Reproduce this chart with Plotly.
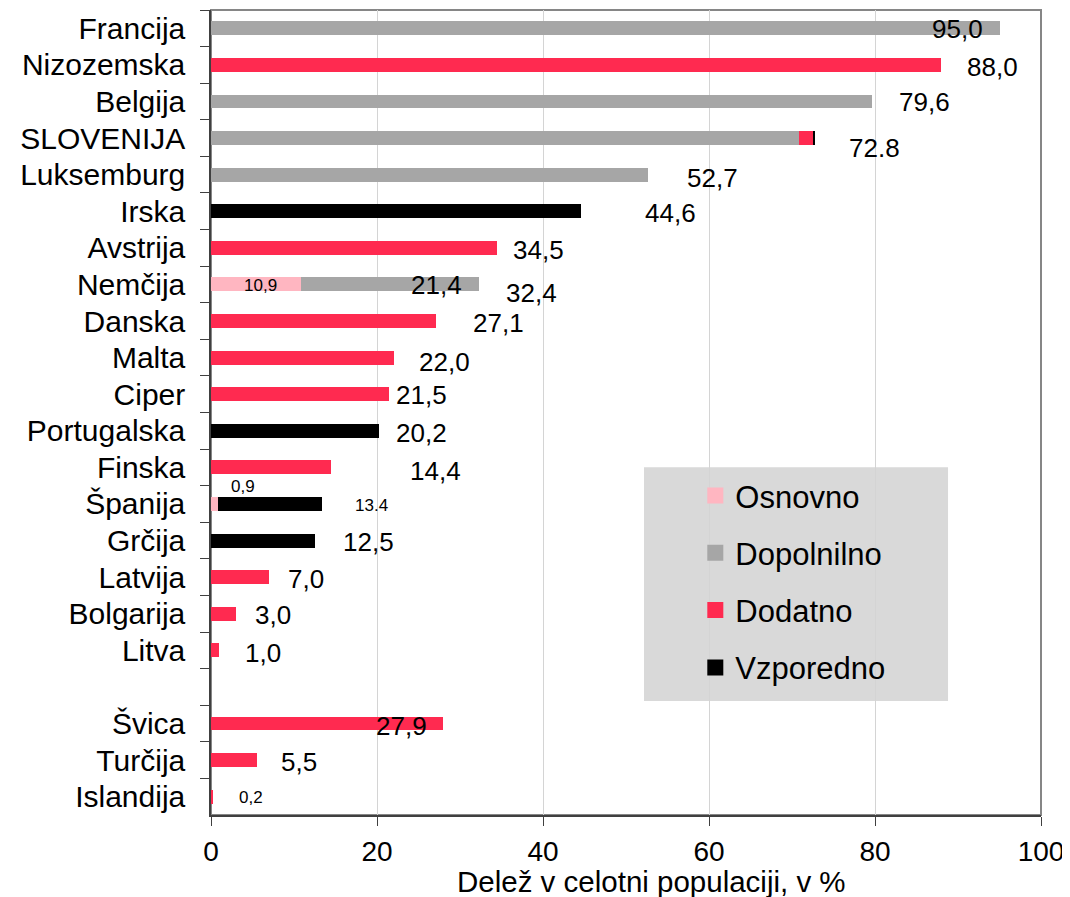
import plotly.graph_objects as go

# ---------------- data ----------------
categories = ["Francija", "Nizozemska", "Belgija", "SLOVENIJA", "Luksemburg", "Irska",
              "Avstrija", "Nemčija", "Danska", "Malta", "Ciper", "Portugalska", "Finska",
              "Španija", "Grčija", "Latvija", "Bolgarija", "Litva", " ",
              "Švica", "Turčija", "Islandija"]
osnovno    = [None, None, None, None, None, None, None, 10.9, None, None, None, None, None,
              0.9, None, None, None, None, None, None, None, None]
dopolnilno = [95.0, None, 79.6, 70.8, 52.7, None, None, 21.4, None, None, None, None, None,
              None, None, None, None, None, None, None, None, None]
dodatno    = [None, 88.0, None, 1.8, None, None, 34.5, None, 27.1, 22.0, 21.5, None, 14.4,
              None, None, 7.0, 3.0, 1.0, None, 27.9, 5.5, 0.2]
vzporedno  = [None, None, None, 0.2, None, 44.6, None, None, None, None, None, 20.2, None,
              12.5, 12.5, None, None, None, None, None, None, None]
total_labels = ["95,0", "88,0", "79,6", "72.8", "52,7", "44,6", "34,5", "32,4", "27,1", "22,0",
                "21,5", "20,2", "14,4", "13.4", "12,5", "7,0", "3,0", "1,0", "",
                "27,9", "5,5", "0,2"]
segment_label_cats = ["Nemčija", "Nemčija", "Španija"]
segment_label_texts = ["21,4", "10,9", "0,9"]

series_names = ["Osnovno", "Dopolnilno", "Dodatno", "Vzporedno"]
series_values = [osnovno, dopolnilno, dodatno, vzporedno]

# ---------------- styles / placement ----------------
colors = ["#FFB6C1", "#A6A6A6", "#FF2A50", "#000000"]
FONT = "Liberation Sans, Arial, sans-serif"
# label offsets (x in axis units from bar end, y in px downward)
total_dx = [-5.1, 6.2, 6.4, 7.1, 7.7, 10.8, 4.9, 6.3, 7.5, 6.1, 3.9, 5.2, 12.6, 5.9, 6.5,
            4.4, 4.5, 5.3, 0, -5.0, 5.1, 4.6]
total_dy = [1, 2, 1, 10, 3, 2, 2, 9, 2, 4, 1, 2, 4, 2, 1, 2, 1, 3, 0, 2, 2, 1]
small_labels = {"13.4", "0,2"}
segment_dx = [-5.1, -4.9, 3.0]   # relative to cumulative end of segment
segment_dy = [1, 1, -17]
segment_size = [26, 17, 17]

def v(x):
    return 0 if x is None else x

totals = [sum(v(s[i]) for s in series_values) for i in range(len(categories))]

fig = go.Figure()
for name, vals, col in zip(series_names, series_values, colors):
    fig.add_trace(go.Bar(y=categories, x=vals, orientation="h", name=name,
                         marker=dict(color=col, line=dict(width=0)),
                         showlegend=False))
# legend entries with square symbols
for i, (name, col) in enumerate(zip(series_names, colors)):
    fig.add_trace(go.Scatter(x=[None], y=[None], mode="markers", name=name,
                             legendgroup=name,
                             marker=dict(symbol="square", size=16, color=col)))

annotations = []
for i, cat in enumerate(categories):
    if not total_labels[i]:
        continue
    annotations.append(dict(
        x=totals[i] + total_dx[i], y=cat, text=total_labels[i], showarrow=False,
        xanchor="center", yanchor="middle", yshift=-total_dy[i],
        font=dict(size=17 if total_labels[i] in small_labels else 26, color="black", family=FONT)))

# segment labels
for j, (cat, txt) in enumerate(zip(segment_label_cats, segment_label_texts)):
    i = categories.index(cat)
    cum = 0
    end = None
    for s in series_values:
        cum += v(s[i])
        if s[i] is not None and f"{s[i]:.1f}".replace(".", ",") == txt:
            end = cum
    annotations.append(dict(
        x=end + segment_dx[j], y=cat, text=txt, showarrow=False,
        xanchor="center", yanchor="middle", yshift=-segment_dy[j],
        font=dict(size=segment_size[j], color="black", family=FONT)))

# axis title
annotations.append(dict(x=0.531, y=-0.082, xref="paper", yref="paper",
                        text="Delež v celotni populaciji, v %", showarrow=False,
                        xanchor="center", yanchor="middle",
                        font=dict(size=29.5, color="black", family=FONT)))

shapes = [
    dict(type="rect", xref="paper", yref="paper", x0=0, x1=1, y0=0, y1=1,
         line=dict(color="#868686", width=2), layer="below"),
    dict(type="rect", xref="paper", yref="paper", x0=0.5217, x1=0.888, y0=0.1416, y1=0.432,
         fillcolor="#D9D9D9", line=dict(width=0), layer="below"),
]

# the page body has an 8px margin, so the figure is 8px smaller and margins shifted
fig.update_layout(
    width=1062, height=889,
    margin=dict(l=203, r=29, t=2, b=82),
    paper_bgcolor="white", plot_bgcolor="white",
    barmode="stack", bargap=0.62,
    font=dict(family=FONT, color="black"),
    annotations=annotations, shapes=shapes,
    legend=dict(x=0.5835, y=0.430, xanchor="left", yanchor="top",
                bgcolor="rgba(0,0,0,0)", font=dict(size=31, family=FONT, color="black"),
                tracegroupgap=14, itemsizing="trace"),
    xaxis=dict(range=[0, 100], dtick=20, showgrid=True, gridcolor="#D4D4D4", gridwidth=1,
               ticks="outside", ticklen=9, tickcolor="#404040", showline=True,
               linecolor="#404040", linewidth=1.5, zeroline=False,
               tickfont=dict(size=28, family=FONT, color="black"), ticklabelstandoff=2),
    yaxis=dict(categoryorder="array", categoryarray=categories, autorange="reversed",
               tickmode="linear", tick0=0, dtick=1,
               ticks="outside", tickson="boundaries", ticklen=9, tickcolor="#404040",
               showline=True, linecolor="#404040", linewidth=1.5, showgrid=False,
               tickfont=dict(size=30, family=FONT, color="black"), ticklabelstandoff=18),
)

fig.write_html("out.html")
